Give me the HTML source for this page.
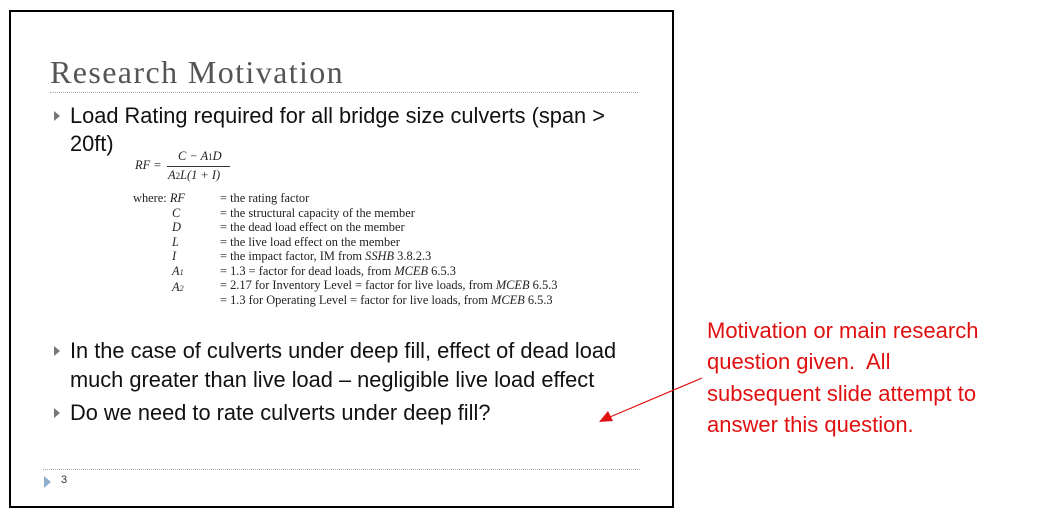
<!DOCTYPE html>
<html><head><style>
body{margin:0;width:1040px;height:519px;background:#fff;position:relative;overflow:hidden;font-family:"Liberation Sans",sans-serif}
.a{position:absolute;white-space:nowrap}
.slide{position:absolute;left:9px;top:10px;width:661px;height:494px;border:2px solid #000}
.dot{position:absolute;height:0;border-top:1px dotted #aaa}
.b{font-size:21.8px;color:#111}
.tri{position:absolute;width:0;height:0;border-top:5px solid transparent;border-bottom:5px solid transparent;border-left:6px solid #777}
.f{font-family:"Liberation Serif",serif;font-size:12.4px;color:#222}
.r{font-size:22px;color:#e01010;left:707px}
</style></head><body>
<div class="slide"></div>
<div class="a" style="left:50px;top:54px;font-family:'Liberation Serif',serif;font-size:32px;letter-spacing:1.4px;color:#555">Research Motivation</div>
<div class="dot" style="left:50px;top:92px;width:588px"></div>
<div class="tri" style="left:54px;top:111px"></div>
<div class="a b" style="left:70px;top:103px">Load Rating required for all bridge size culverts (span &gt;</div>
<div class="a b" style="left:70px;top:131px">20ft)</div>
<div class="a f" style="left:135px;top:158px;font-style:italic">RF =</div>
<div class="a f" style="left:178px;top:149px;font-style:italic">C − A<span style="font-size:9px;font-style:normal">1</span>D</div>
<div style="position:absolute;left:167px;top:166px;width:63px;border-top:1px solid #333"></div>
<div class="a f" style="left:168px;top:168px;font-style:italic">A<span style="font-size:9px;font-style:normal">2</span>L(1 + I)</div>
<div class="a f" style="left:133px;top:191px;line-height:14.5px">where: <i>RF</i></div>
<div class="a f" style="left:172px;top:205.5px;line-height:14.5px;font-style:italic">C<br>D<br>L<br>I<br>A<span style="font-size:8px">1</span><br>A<span style="font-size:8px">2</span></div>
<div class="a f" style="left:220px;top:191px;line-height:14.5px">= the rating factor<br>= the structural capacity of the member<br>= the dead load effect on the member<br>= the live load effect on the member<br>= the impact factor, IM from <i>SSHB</i> 3.8.2.3<br>= 1.3 = factor for dead loads, from <i>MCEB</i> 6.5.3<br>= 2.17 for Inventory Level = factor for live loads, from <i>MCEB</i> 6.5.3<br>= 1.3 for Operating Level = factor for live loads, from <i>MCEB</i> 6.5.3</div>
<div class="tri" style="left:54px;top:346px"></div>
<div class="a b" style="left:70px;top:338px">In the case of culverts under deep fill, effect of dead load</div>
<div class="a b" style="left:70px;top:367px">much greater than live load – negligible live load effect</div>
<div class="tri" style="left:54px;top:408px"></div>
<div class="a b" style="left:70px;top:400px">Do we need to rate culverts under deep fill?</div>
<div class="dot" style="left:43px;top:469px;width:597px"></div>
<div class="tri" style="left:44px;top:476px;border-left-color:#8fb0cc;border-top-width:6px;border-bottom-width:6px;border-left-width:7px"></div>
<div class="a" style="left:61px;top:474px;font-size:11px;color:#333">3</div>
<div class="a r" style="top:318px">Motivation or main research</div>
<div class="a r" style="top:349px">question given.&nbsp; All</div>
<div class="a r" style="top:381px">subsequent slide attempt to</div>
<div class="a r" style="top:412px">answer this question.</div>
<svg style="position:absolute;left:0;top:0" width="1040" height="519">
<line x1="702" y1="378" x2="610" y2="417" stroke="#e01010" stroke-width="1.2"/>
<polygon points="599,422 608,411 613,421" fill="#e01010"/>
</svg>
</body></html>
